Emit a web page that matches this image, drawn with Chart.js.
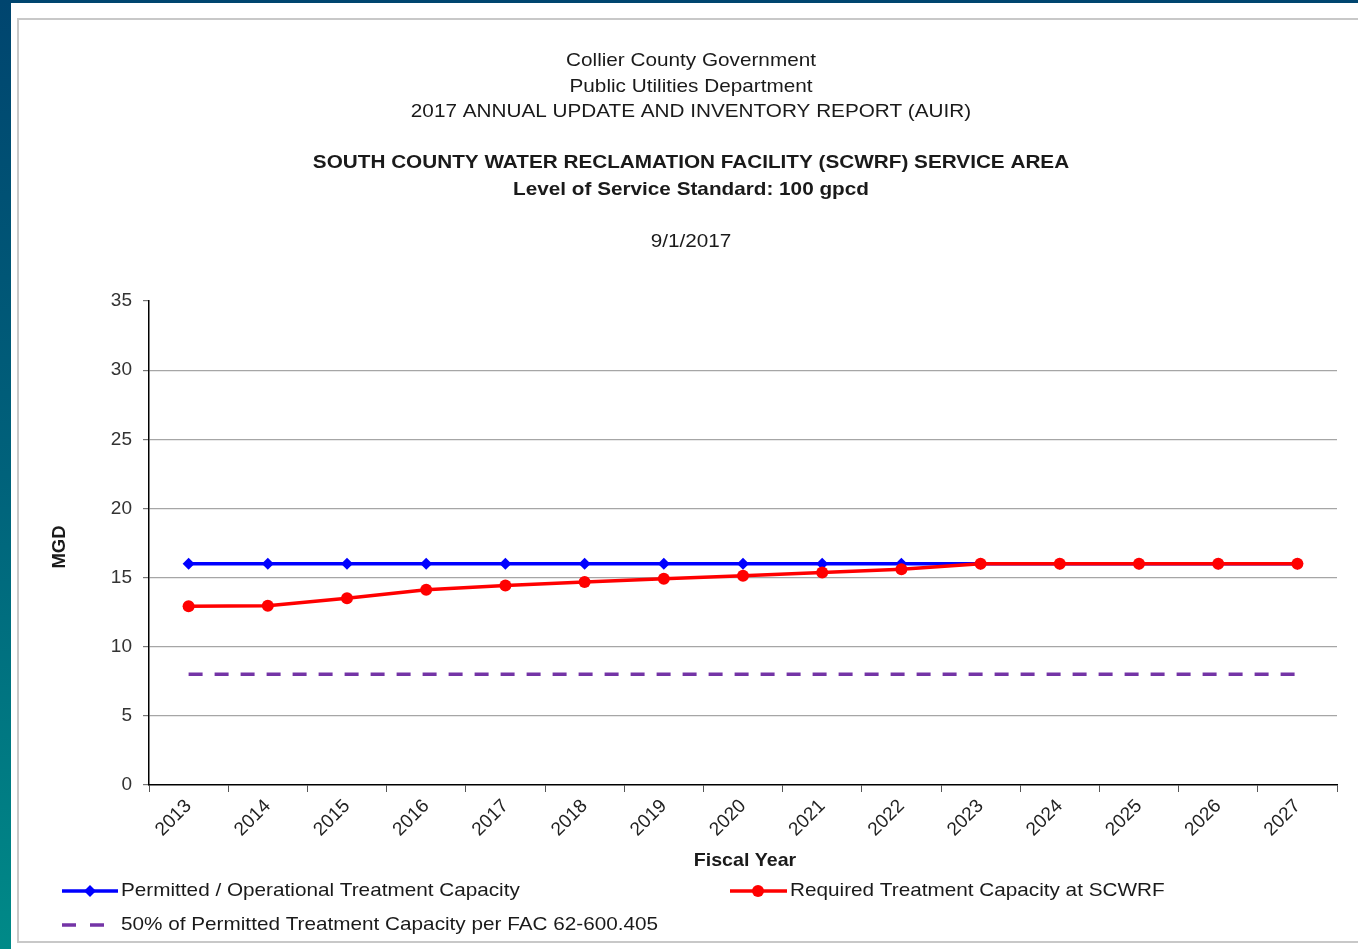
<!DOCTYPE html>
<html>
<head>
<meta charset="utf-8">
<script src="https://cdn.jsdelivr.net/npm/chart.js@4.4.1/dist/chart.umd.min.js"></script>
<style>
  html, body { margin: 0; padding: 0; width: 1358px; height: 949px; overflow: hidden; }
  #bg { position: absolute; left: 0; top: 0; width: 1358px; height: 949px;
        background: linear-gradient(to bottom, #00456f 0%, #00627b 50%, #008a88 100%); }
  #paper { position: absolute; left: 11px; top: 3px; width: 1347px; height: 946px; background: #fff; }
  #box { position: absolute; left: 17px; top: 18px; width: 1500px; height: 921px;
         border: 2px solid #c8c8c8; background: #fff; }
  #c { position: absolute; left: 0; top: 0; }
</style>
</head>
<body>
<div id="bg"></div>
<div id="paper"></div>
<div id="box"></div>
<canvas id="c" width="1358" height="949"></canvas>
<script>
// ---- data ----
const years = ['2013','2014','2015','2016','2017','2018','2019','2020','2021','2022','2023','2024','2025','2026','2027'];
const permittedCapacity = [16,16,16,16,16,16,16,16,16,16,16,16,16,16,16];
const requiredCapacity = [12.93,12.97,13.5,14.12,14.42,14.68,14.92,15.14,15.37,15.6,16,16,16,16,16];
const fiftyPercentCapacity = [8,8,8,8,8,8,8,8,8,8,8,8,8,8,8];
const seriesLabels = ['Permitted / Operational Treatment Capacity','Required Treatment Capacity at SCWRF','50% of Permitted Treatment Capacity per FAC 62-600.405'];
const yTicks = [0,5,10,15,20,25,30,35];
const headerLines = ['Collier County Government','Public Utilities Department','2017 ANNUAL UPDATE AND INVENTORY REPORT (AUIR)'];
const boldLines = ['SOUTH COUNTY WATER RECLAMATION FACILITY (SCWRF) SERVICE AREA','Level of Service Standard: 100 gpcd'];
const dateLine = '9/1/2017';
const xTitle = 'Fiscal Year';
const yTitle = 'MGD';

const FAM = '"Liberation Sans", Arial, sans-serif';

function drawText(ctx, s, x, y, font, align, rot, sx) {
  ctx.save();
  ctx.font = font;
  ctx.fillStyle = '#1a1a1a';
  ctx.textBaseline = 'middle';
  ctx.textAlign = align;
  ctx.translate(x, y);
  if (rot) ctx.rotate(rot);
  ctx.scale(sx || 1.12, 1);
  ctx.fillText(s, 0, 0);
  ctx.restore();
}

const decorPlugin = {
  id: 'decor',
  afterDraw(chart) {
    const ctx = chart.ctx;
    const ca = chart.chartArea;
    const cx = 691;
    const nf = '18.5px ' + FAM;
    const bf = 'bold 18.5px ' + FAM;
    drawText(ctx, headerLines[0], cx, 61, nf, 'center');
    drawText(ctx, headerLines[1], cx, 87, nf, 'center');
    drawText(ctx, headerLines[2], cx, 112, nf, 'center');
    drawText(ctx, boldLines[0], cx, 163, bf, 'center');
    drawText(ctx, boldLines[1], cx, 190, bf, 'center');
    drawText(ctx, dateLine, cx, 242, nf, 'center');
    drawText(ctx, xTitle, (ca.left + ca.right) / 2 + 2, 861, bf, 'center', 0, 1.06);
    drawText(ctx, yTitle, 60, (ca.top + ca.bottom) / 2 + 4, bf, 'center', -Math.PI / 2, 1.0);

    // legend
    const ds = chart.data.datasets;
    ctx.save();
    ctx.strokeStyle = ds[0].borderColor; ctx.lineWidth = 3.5;
    ctx.beginPath(); ctx.moveTo(62, 891); ctx.lineTo(118, 891); ctx.stroke();
    ctx.fillStyle = ds[0].borderColor;
    ctx.beginPath(); ctx.moveTo(90, 885); ctx.lineTo(96, 891); ctx.lineTo(90, 897); ctx.lineTo(84, 891); ctx.closePath(); ctx.fill();
    ctx.strokeStyle = ds[1].borderColor;
    ctx.beginPath(); ctx.moveTo(730, 891); ctx.lineTo(787, 891); ctx.stroke();
    ctx.fillStyle = ds[1].borderColor;
    ctx.beginPath(); ctx.arc(758, 891, 6, 0, Math.PI * 2); ctx.fill();
    ctx.strokeStyle = ds[2].borderColor; ctx.setLineDash([14, 14]);
    ctx.beginPath(); ctx.moveTo(62, 925); ctx.lineTo(106, 925); ctx.stroke();
    ctx.restore();
    drawText(ctx, ds[0].label, 121, 891, nf, 'left');
    drawText(ctx, ds[1].label, 790, 891, nf, 'left');
    drawText(ctx, ds[2].label, 121, 925, nf, 'left');
  }
};

new Chart(document.getElementById('c'), {
  type: 'line',
  data: {
    labels: years,
    datasets: [
      { label: seriesLabels[0], data: permittedCapacity, borderColor: '#0000ff', backgroundColor: '#0000ff', order: 1,
        borderWidth: 3.5, pointStyle: 'rectRot', pointRadius: 6, pointBorderWidth: 0, tension: 0 },
      { label: seriesLabels[1], data: requiredCapacity, borderColor: '#ff0000', backgroundColor: '#ff0000', order: 0,
        borderWidth: 3.5, pointStyle: 'circle', pointRadius: 6, pointBorderWidth: 0, tension: 0 },
      { label: seriesLabels[2], data: fiftyPercentCapacity, borderColor: '#7434a6', backgroundColor: '#7434a6', order: 2,
        borderWidth: 3.5, borderDash: [14, 12], pointRadius: 0, tension: 0 }
    ]
  },
  options: {
    responsive: false,
    devicePixelRatio: 1,
    animation: false,
    layout: { padding: { left: 0, right: 21, top: 301, bottom: 0 } },
    plugins: { legend: { display: false }, title: { display: false }, tooltip: { enabled: false } },
    scales: {
      x: {
        offset: true,
        grid: { offset: true, drawOnChartArea: false, drawTicks: true, tickLength: 7, tickColor: '#555', color: '#555' },
        border: { color: '#000', width: 1.5 },
        ticks: { minRotation: 45, maxRotation: 45, autoSkip: false, padding: 3, color: '#222', font: { size: 19, family: FAM } },
        afterFit(s) { s.height = 164; }
      },
      y: {
        min: 0, max: 35,
        afterBuildTicks(s) { s.ticks = yTicks.map(v => ({ value: v })); },
        grid: { color: c => (c.tick && (c.tick.value === 35 || c.tick.value === 0)) ? 'rgba(0,0,0,0)' : '#a6a6a6',
                tickColor: '#777', tickLength: 6, lineWidth: 1.2 },
        border: { color: '#000', width: 1.5 },
        ticks: { padding: 11, color: '#333', font: { size: 19, family: FAM } },
        afterFit(s) { s.width = 149; }
      }
    }
  },
  plugins: [decorPlugin]
});
</script>
</body>
</html>
